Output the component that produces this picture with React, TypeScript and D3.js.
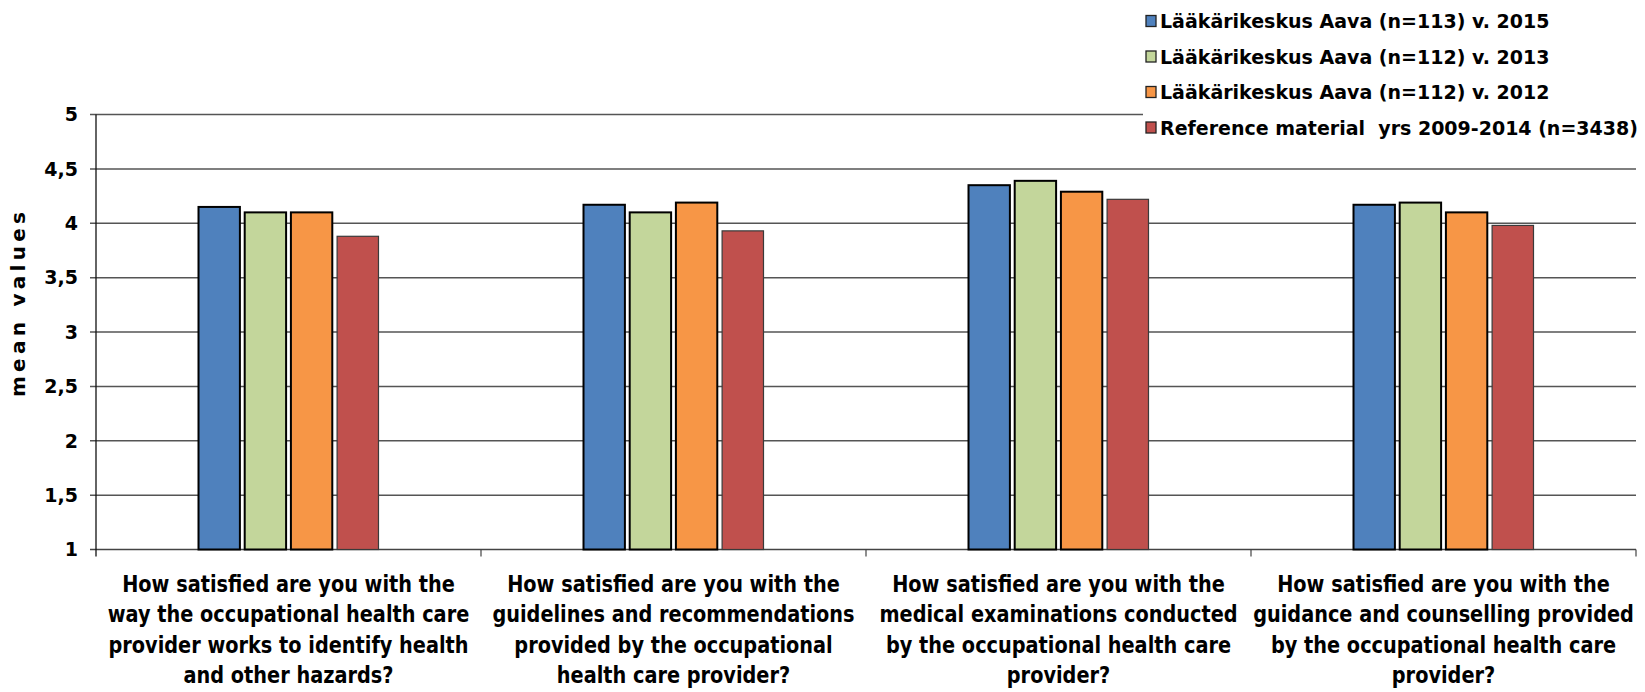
import React from "react";
import * as d3 from "d3";

const categories: string[][] = [
  ["How satisfied are you with the", "way the occupational health care", "provider works to identify health", "and other hazards?"],
  ["How satisfied are you with the", "guidelines and recommendations", "provided by the occupational", "health care provider?"],
  ["How satisfied are you with the", "medical examinations conducted", "by the occupational health care", "provider?"],
  ["How satisfied are you with the", "guidance and counselling provided", "by the occupational health care", "provider?"],
];

const seriesNames = [
  "Lääkärikeskus Aava (n=113) v. 2015",
  "Lääkärikeskus Aava (n=112) v. 2013",
  "Lääkärikeskus Aava (n=112) v. 2012",
  "Reference material  yrs 2009-2014 (n=3438)",
];

const aava2015 = [4.15, 4.17, 4.35, 4.17];
const aava2013 = [4.10, 4.10, 4.39, 4.19];
const aava2012 = [4.10, 4.19, 4.29, 4.10];
const referenceMaterial = [3.88, 3.93, 4.22, 3.98];

const yTicks = [1, 1.5, 2, 2.5, 3, 3.5, 4, 4.5, 5];

const seriesValues = [aava2015, aava2013, aava2012, referenceMaterial];
const colors = ["#4F81BD", "#C3D69B", "#F79646", "#C0504D"];
const strokes = ["#000", "#000", "#000", "#3a3a3a"];
const strokeW = [2, 2, 2, 1.2];

const W = 1645;
const H = 692;
const left = 96;
const right = 1636;
const top = 114.5;
const bottom = 549.5;

export default function App() {
  const x = d3.scaleBand<number>().domain(categories.map((_, i) => i)).range([left, right]).padding(0);
  const y = d3.scaleLinear().domain([1, 5]).range([bottom, top]);
  const groupW = x.bandwidth() * 0.4675;
  const fmt = (v: number) => String(v).replace(".", ",");
  const font = "'DejaVu Sans', Verdana, sans-serif";

  return (
    <svg width={W} height={H} style={{ position: "absolute", left: 0, top: 0, background: "#fff" }}>
      <rect x={0} y={0} width={W} height={H} fill="#fff" />
      {yTicks.map((t) => (
        <line key={"g" + t} x1={left - 6} x2={right} y1={y(t)} y2={y(t)} stroke={t === 1 ? "#444" : "#555"} strokeWidth={1.5} />
      ))}
      {yTicks.map((t) => (
        <text key={"t" + t} x={78} y={y(t) + 6.8} textAnchor="end" fontFamily={font} fontWeight="bold" fontSize={19} fill="#000">
          {fmt(t)}
        </text>
      ))}
      <line x1={left} x2={left} y1={top} y2={bottom + 7} stroke="#111" strokeWidth={1.3} />
      {categories.map((_, i) => (
        <line key={"ct" + i} x1={(x(i) as number) + x.bandwidth()} x2={(x(i) as number) + x.bandwidth()} y1={bottom} y2={bottom + 7} stroke="#444" strokeWidth={1.2} />
      ))}
      {categories.map((_, i) => {
        const cx = (x(i) as number) + x.bandwidth() / 2;
        const inner = d3.scaleBand<number>().domain([0, 1, 2, 3]).range([cx - groupW / 2, cx + groupW / 2]).paddingInner(0.104).paddingOuter(0);
        return (
          <g key={"b" + i}>
            {seriesValues.map((vals, s) => (
              <rect
                key={s}
                x={inner(s) as number}
                y={y(vals[i])}
                width={inner.bandwidth()}
                height={y(1) - y(vals[i])}
                fill={colors[s]}
                stroke={strokes[s]}
                strokeWidth={strokeW[s]}
              />
            ))}
          </g>
        );
      })}
      {categories.map((lines, i) => {
        const cx = (x(i) as number) + x.bandwidth() / 2;
        return (
          <g key={"xl" + i} transform={`translate(${cx},0) scale(0.84,1)`}>
            {lines.map((ln, k) => (
              <text key={k} x={0} y={592 + k * 30.5} textAnchor="middle" fontFamily={font} fontWeight="bold" fontSize={23} fill="#000">
                {ln}
              </text>
            ))}
          </g>
        );
      })}
      <text
        x={-304.5 - 92.5}
        y={25}
        transform="rotate(-90)"
        textLength={185}
        lengthAdjust="spacing"
        fontFamily={font}
        fontWeight="bold"
        fontSize={20}
        fill="#000"
      >
        mean values
      </text>
      <rect x={1143} y={0} width={W - 1143} height={145} fill="#fff" />
      {seriesNames.map((nm, s) => {
        const cy = 21 + s * 35.5;
        return (
          <g key={"lg" + s}>
            <rect x={1146} y={cy - 5.5} width={10} height={11} fill={colors[s]} stroke="#222" strokeWidth={1.3} />
            <text x={1160} y={cy + 7} fontFamily={font} fontWeight="bold" fontSize={19} fill="#000" style={{ whiteSpace: "pre" }}>
              {nm}
            </text>
          </g>
        );
      })}
    </svg>
  );
}
